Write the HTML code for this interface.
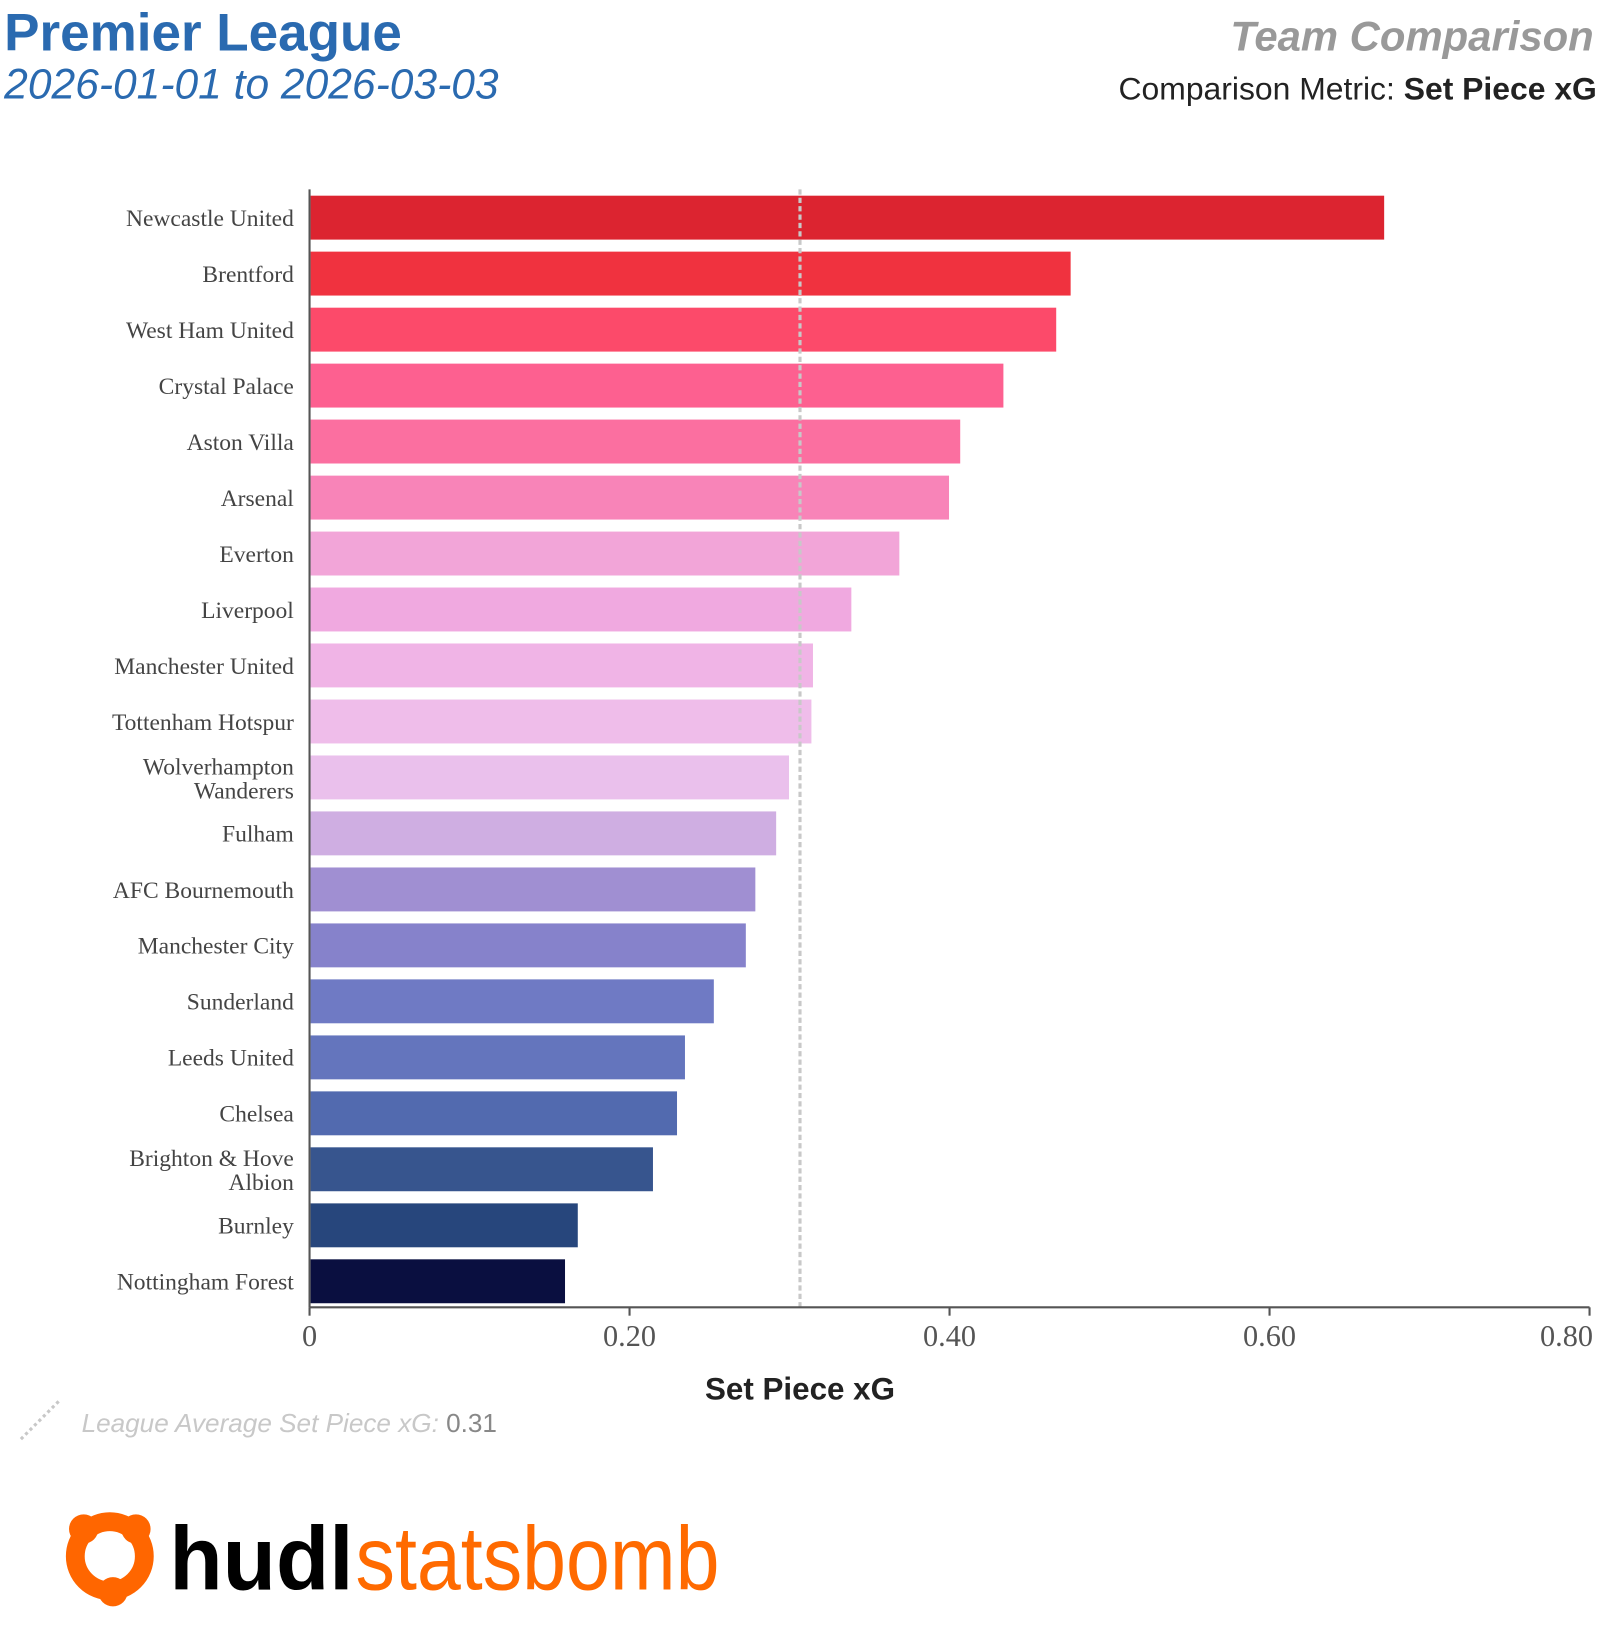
<!DOCTYPE html>
<html><head><meta charset="utf-8"><style>html,body{margin:0;padding:0;background:#fff}svg{display:block}</style></head>
<body>
<svg width="1600" height="1640" viewBox="0 0 1530 1568" xmlns="http://www.w3.org/2000/svg">
<text x="4" y="48" font-family="Liberation Sans, sans-serif" font-weight="bold" font-size="50.7" fill="#2a6ab0">Premier League</text>
<text x="4" y="94" font-family="Liberation Sans, sans-serif" font-style="italic" font-size="40.7" fill="#2a6ab0">2026-01-01 to 2026-03-03</text>
<text x="1524" y="48" text-anchor="end" font-family="Liberation Sans, sans-serif" font-weight="bold" font-style="italic" font-size="40" fill="#999">Team Comparison</text>
<text x="1527" y="95" text-anchor="end" font-family="Liberation Sans, sans-serif" font-size="30.5" fill="#222">Comparison Metric: <tspan font-weight="bold">Set Piece xG</tspan></text>
<g>
<rect x="297" y="187" width="1026.6" height="42" fill="#dc2430"/>
<rect x="297" y="240.5" width="726.8" height="42" fill="#f0323f"/>
<rect x="297" y="294.1" width="713" height="42" fill="#fc4a6a"/>
<rect x="297" y="347.6" width="662.5" height="42" fill="#fd6090"/>
<rect x="297" y="401.1" width="621.2" height="42" fill="#fb6fa0"/>
<rect x="297" y="454.7" width="610.5" height="42" fill="#f884b8"/>
<rect x="297" y="508.2" width="563" height="42" fill="#f2a5d8"/>
<rect x="297" y="561.7" width="517.1" height="42" fill="#f0a9e0"/>
<rect x="297" y="615.2" width="480.4" height="42" fill="#f0b4e6"/>
<rect x="297" y="668.8" width="478.9" height="42" fill="#efbdea"/>
<rect x="297" y="722.3" width="457.5" height="42" fill="#eac0ec"/>
<rect x="297" y="775.8" width="445.2" height="42" fill="#cfaee2"/>
<rect x="297" y="829.4" width="425.3" height="42" fill="#a08fd2"/>
<rect x="297" y="882.9" width="416.2" height="42" fill="#8682cb"/>
<rect x="297" y="936.4" width="385.6" height="42" fill="#6f7ac4"/>
<rect x="297" y="990" width="358" height="42" fill="#6475bd"/>
<rect x="297" y="1043.5" width="350.4" height="42" fill="#526aaf"/>
<rect x="297" y="1097" width="327.4" height="42" fill="#37558e"/>
<rect x="297" y="1150.6" width="255.5" height="42" fill="#27467c"/>
<rect x="297" y="1204.1" width="243.3" height="42" fill="#0a0f40"/>
</g>
<g font-family="Liberation Serif, serif" font-size="22.5" fill="#444" text-anchor="end">
<text x="281" y="216">Newcastle United</text>
<text x="281" y="269.5">Brentford</text>
<text x="281" y="323.1">West Ham United</text>
<text x="281" y="376.6">Crystal Palace</text>
<text x="281" y="430.1">Aston Villa</text>
<text x="281" y="483.7">Arsenal</text>
<text x="281" y="537.2">Everton</text>
<text x="281" y="590.7">Liverpool</text>
<text x="281" y="644.2">Manchester United</text>
<text x="281" y="697.8">Tottenham Hotspur</text>
<text x="281" y="740.3">Wolverhampton</text>
<text x="281" y="763.3">Wanderers</text>
<text x="281" y="804.8">Fulham</text>
<text x="281" y="858.4">AFC Bournemouth</text>
<text x="281" y="911.9">Manchester City</text>
<text x="281" y="965.4">Sunderland</text>
<text x="281" y="1019">Leeds United</text>
<text x="281" y="1072.5">Chelsea</text>
<text x="281" y="1115">Brighton &amp; Hove</text>
<text x="281" y="1138">Albion</text>
<text x="281" y="1179.6">Burnley</text>
<text x="281" y="1233.1">Nottingham Forest</text>
</g>
<line x1="765" y1="181" x2="765" y2="1250" stroke="#c8c8c8" stroke-width="3" stroke-dasharray="5,3"/>
<line x1="296" y1="181" x2="296" y2="1250" stroke="#555" stroke-width="2"/>
<line x1="296" y1="1250" x2="1520" y2="1250" stroke="#555" stroke-width="2"/>
<g stroke="#555" stroke-width="2">
<line x1="296" y1="1250" x2="296" y2="1258"/><line x1="602" y1="1250" x2="602" y2="1258"/><line x1="908" y1="1250" x2="908" y2="1258"/><line x1="1214" y1="1250" x2="1214" y2="1258"/><line x1="1520" y1="1250" x2="1520" y2="1258"/>
</g>
<g font-family="Liberation Serif, serif" font-size="29" fill="#555" text-anchor="middle">
<text x="296" y="1287">0</text><text x="602" y="1287">0.20</text><text x="908" y="1287">0.40</text><text x="1214" y="1287">0.60</text><text x="1498" y="1287">0.80</text>
</g>
<text x="765" y="1338" text-anchor="middle" font-family="Liberation Sans, sans-serif" font-weight="bold" font-size="30" fill="#222">Set Piece xG</text>
<line x1="20" y1="1376" x2="58" y2="1338" stroke="#c8c8c8" stroke-width="3" stroke-dasharray="3,3"/>
<text x="78" y="1369" font-family="Liberation Sans, sans-serif" font-size="25" fill="#c8c8c8"><tspan font-style="italic">League Average Set Piece xG:</tspan> <tspan fill="#888">0.31</tspan></text>
<g fill="#ff6600">
<circle cx="105" cy="1488" r="33" fill="none" stroke="#ff6600" stroke-width="18"/>
<circle cx="80" cy="1462" r="14"/><circle cx="130" cy="1462" r="14"/><circle cx="108" cy="1522" r="14"/>
</g>
<text x="162" y="1520" font-family="Liberation Sans, sans-serif" font-weight="bold" font-size="86" fill="#000" textLength="176" lengthAdjust="spacingAndGlyphs">hudl</text>
<text x="340" y="1520" font-family="Liberation Sans, sans-serif" font-size="86" fill="#ff6a00" textLength="348" lengthAdjust="spacingAndGlyphs">statsbomb</text>
</svg>
</body></html>
